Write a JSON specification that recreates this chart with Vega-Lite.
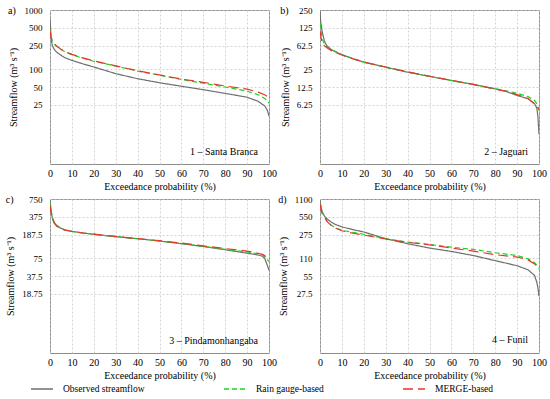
{
  "$schema": "https://vega.github.io/schema/vega-lite/v6.json",
  "padding": {"left": 5, "top": 5, "right": 2, "bottom": 2},
  "background": "white",
  "config": {
    "font": "Liberation Serif, Times New Roman, serif",
    "view": {"stroke": "#8c8c8c", "strokeWidth": 1},
    "axis": {"labelFont": "Liberation Serif, Times New Roman, serif", "titleFont": "Liberation Serif, Times New Roman, serif", "labelFontSize": 10, "titleFontSize": 10, "titleFontWeight": "normal", "labelColor": "#000", "titleColor": "#000", "ticks": false, "domain": false, "gridColor": "#c8c8c8", "gridDash": [2, 2], "gridWidth": 0.8, "labelOverlap": false, "labelFlush": false},
    "axisX": {"labelPadding": 4, "titlePadding": 3, "tickCount": 11},
    "axisY": {"labelPadding": 8, "titlePadding": 6, "labelFontSize": 9},
    "title": {"font": "Liberation Serif, Times New Roman, serif", "fontSize": 10, "fontWeight": "normal", "color": "#000"},
    "text": {"font": "Liberation Serif, Times New Roman, serif", "fontSize": 10},
    "legend": {"orient": "none", "legendX": -20, "legendY": 367, "direction": "horizontal", "symbolType": "stroke", "symbolSize": 484, "symbolStrokeWidth": 1.5, "columnPadding": 76, "labelOffset": 9, "padding": 0, "gridAlign": "none", "labelFont": "Liberation Serif, Times New Roman, serif", "labelFontSize": 9.5, "labelColor": "#000"}
  },
  "datasets": {
    "a": [
      {"series":"Observed streamflow","p":0,"q":700},{"series":"Observed streamflow","p":0.5,"q":350},{"series":"Observed streamflow","p":1,"q":254},{"series":"Observed streamflow","p":2,"q":215},{"series":"Observed streamflow","p":3,"q":195},{"series":"Observed streamflow","p":5,"q":172},{"series":"Observed streamflow","p":7,"q":155},{"series":"Observed streamflow","p":10,"q":141},{"series":"Observed streamflow","p":15,"q":123},{"series":"Observed streamflow","p":20,"q":109},{"series":"Observed streamflow","p":30,"q":84},{"series":"Observed streamflow","p":40,"q":69},{"series":"Observed streamflow","p":50,"q":59},{"series":"Observed streamflow","p":60,"q":51.5},{"series":"Observed streamflow","p":70,"q":45},{"series":"Observed streamflow","p":80,"q":39},{"series":"Observed streamflow","p":90,"q":33.6},{"series":"Observed streamflow","p":95,"q":28.7},{"series":"Observed streamflow","p":98,"q":24},{"series":"Observed streamflow","p":99,"q":21},{"series":"Observed streamflow","p":99.5,"q":19},{"series":"Observed streamflow","p":100,"q":16},
      {"series":"Rain gauge-based","p":0,"q":480},{"series":"Rain gauge-based","p":0.5,"q":350},{"series":"Rain gauge-based","p":1,"q":300},{"series":"Rain gauge-based","p":2,"q":265},{"series":"Rain gauge-based","p":3,"q":245},{"series":"Rain gauge-based","p":5,"q":215},{"series":"Rain gauge-based","p":7,"q":195},{"series":"Rain gauge-based","p":10,"q":176},{"series":"Rain gauge-based","p":15,"q":153},{"series":"Rain gauge-based","p":20,"q":136},{"series":"Rain gauge-based","p":30,"q":113},{"series":"Rain gauge-based","p":40,"q":93},{"series":"Rain gauge-based","p":50,"q":79},{"series":"Rain gauge-based","p":60,"q":67},{"series":"Rain gauge-based","p":70,"q":58},{"series":"Rain gauge-based","p":80,"q":50},{"series":"Rain gauge-based","p":90,"q":42.5},{"series":"Rain gauge-based","p":95,"q":37},{"series":"Rain gauge-based","p":98,"q":32},{"series":"Rain gauge-based","p":99,"q":30},{"series":"Rain gauge-based","p":100,"q":26.5},
      {"series":"MERGE-based","p":0,"q":450},{"series":"MERGE-based","p":0.5,"q":340},{"series":"MERGE-based","p":1,"q":300},{"series":"MERGE-based","p":2,"q":268},{"series":"MERGE-based","p":3,"q":247},{"series":"MERGE-based","p":5,"q":218},{"series":"MERGE-based","p":7,"q":197},{"series":"MERGE-based","p":10,"q":178},{"series":"MERGE-based","p":15,"q":155},{"series":"MERGE-based","p":20,"q":138},{"series":"MERGE-based","p":30,"q":114},{"series":"MERGE-based","p":40,"q":94},{"series":"MERGE-based","p":50,"q":80},{"series":"MERGE-based","p":60,"q":68},{"series":"MERGE-based","p":70,"q":60},{"series":"MERGE-based","p":80,"q":52},{"series":"MERGE-based","p":90,"q":46},{"series":"MERGE-based","p":95,"q":41},{"series":"MERGE-based","p":98,"q":37},{"series":"MERGE-based","p":99,"q":35},{"series":"MERGE-based","p":100,"q":33}
    ],
    "b": [
      {"series":"Observed streamflow","p":0,"q":250},{"series":"Observed streamflow","p":0.3,"q":160},{"series":"Observed streamflow","p":1,"q":107},{"series":"Observed streamflow","p":2,"q":75},{"series":"Observed streamflow","p":3,"q":63},{"series":"Observed streamflow","p":5,"q":54},{"series":"Observed streamflow","p":7,"q":49},{"series":"Observed streamflow","p":10,"q":44},{"series":"Observed streamflow","p":15,"q":37.5},{"series":"Observed streamflow","p":20,"q":33},{"series":"Observed streamflow","p":30,"q":27},{"series":"Observed streamflow","p":40,"q":22.3},{"series":"Observed streamflow","p":50,"q":18.9},{"series":"Observed streamflow","p":60,"q":16.1},{"series":"Observed streamflow","p":70,"q":13.8},{"series":"Observed streamflow","p":80,"q":11.6},{"series":"Observed streamflow","p":85,"q":10.5},{"series":"Observed streamflow","p":90,"q":9.0},{"series":"Observed streamflow","p":95,"q":7.9},{"series":"Observed streamflow","p":98,"q":6.5},{"series":"Observed streamflow","p":99,"q":5.5},{"series":"Observed streamflow","p":99.5,"q":4},{"series":"Observed streamflow","p":100,"q":2.0},
      {"series":"Rain gauge-based","p":0,"q":150},{"series":"Rain gauge-based","p":0.5,"q":110},{"series":"Rain gauge-based","p":1,"q":80},{"series":"Rain gauge-based","p":2,"q":68},{"series":"Rain gauge-based","p":3,"q":60},{"series":"Rain gauge-based","p":5,"q":54},{"series":"Rain gauge-based","p":7,"q":50},{"series":"Rain gauge-based","p":10,"q":44},{"series":"Rain gauge-based","p":15,"q":38},{"series":"Rain gauge-based","p":20,"q":33},{"series":"Rain gauge-based","p":30,"q":27},{"series":"Rain gauge-based","p":40,"q":22.3},{"series":"Rain gauge-based","p":50,"q":18.9},{"series":"Rain gauge-based","p":60,"q":16.1},{"series":"Rain gauge-based","p":70,"q":13.8},{"series":"Rain gauge-based","p":80,"q":11.7},{"series":"Rain gauge-based","p":85,"q":10.8},{"series":"Rain gauge-based","p":90,"q":9.8},{"series":"Rain gauge-based","p":95,"q":8.6},{"series":"Rain gauge-based","p":98,"q":7.4},{"series":"Rain gauge-based","p":99,"q":6.5},{"series":"Rain gauge-based","p":100,"q":5.0},
      {"series":"MERGE-based","p":0,"q":110},{"series":"MERGE-based","p":0.5,"q":85},{"series":"MERGE-based","p":1,"q":68},{"series":"MERGE-based","p":2,"q":62},{"series":"MERGE-based","p":3,"q":58},{"series":"MERGE-based","p":5,"q":52},{"series":"MERGE-based","p":7,"q":48},{"series":"MERGE-based","p":10,"q":43.5},{"series":"MERGE-based","p":15,"q":37.5},{"series":"MERGE-based","p":20,"q":33},{"series":"MERGE-based","p":30,"q":27.2},{"series":"MERGE-based","p":40,"q":22.5},{"series":"MERGE-based","p":50,"q":19},{"series":"MERGE-based","p":60,"q":16.2},{"series":"MERGE-based","p":70,"q":13.8},{"series":"MERGE-based","p":80,"q":11.6},{"series":"MERGE-based","p":85,"q":10.6},{"series":"MERGE-based","p":90,"q":9.3},{"series":"MERGE-based","p":95,"q":8.0},{"series":"MERGE-based","p":98,"q":6.5},{"series":"MERGE-based","p":99,"q":6.0},{"series":"MERGE-based","p":100,"q":5.3}
    ],
    "c": [
      {"series":"Observed streamflow","p":0,"q":720},{"series":"Observed streamflow","p":0.5,"q":480},{"series":"Observed streamflow","p":1,"q":370},{"series":"Observed streamflow","p":2,"q":300},{"series":"Observed streamflow","p":3,"q":270},{"series":"Observed streamflow","p":5,"q":240},{"series":"Observed streamflow","p":7,"q":225},{"series":"Observed streamflow","p":10,"q":214},{"series":"Observed streamflow","p":15,"q":200},{"series":"Observed streamflow","p":20,"q":190},{"series":"Observed streamflow","p":30,"q":173},{"series":"Observed streamflow","p":40,"q":160},{"series":"Observed streamflow","p":50,"q":146},{"series":"Observed streamflow","p":60,"q":132},{"series":"Observed streamflow","p":70,"q":118},{"series":"Observed streamflow","p":80,"q":104},{"series":"Observed streamflow","p":90,"q":91},{"series":"Observed streamflow","p":95,"q":85},{"series":"Observed streamflow","p":97,"q":81},{"series":"Observed streamflow","p":98,"q":75},{"series":"Observed streamflow","p":99,"q":60},{"series":"Observed streamflow","p":100,"q":47},
      {"series":"Rain gauge-based","p":0,"q":650},{"series":"Rain gauge-based","p":0.5,"q":450},{"series":"Rain gauge-based","p":1,"q":360},{"series":"Rain gauge-based","p":2,"q":295},{"series":"Rain gauge-based","p":3,"q":265},{"series":"Rain gauge-based","p":5,"q":238},{"series":"Rain gauge-based","p":7,"q":223},{"series":"Rain gauge-based","p":10,"q":212},{"series":"Rain gauge-based","p":15,"q":199},{"series":"Rain gauge-based","p":20,"q":190},{"series":"Rain gauge-based","p":30,"q":173},{"series":"Rain gauge-based","p":40,"q":160},{"series":"Rain gauge-based","p":50,"q":146},{"series":"Rain gauge-based","p":60,"q":133},{"series":"Rain gauge-based","p":70,"q":119},{"series":"Rain gauge-based","p":80,"q":106},{"series":"Rain gauge-based","p":90,"q":96},{"series":"Rain gauge-based","p":95,"q":89},{"series":"Rain gauge-based","p":97,"q":86},{"series":"Rain gauge-based","p":98,"q":80},{"series":"Rain gauge-based","p":99,"q":72},{"series":"Rain gauge-based","p":100,"q":66},
      {"series":"MERGE-based","p":0,"q":600},{"series":"MERGE-based","p":0.5,"q":440},{"series":"MERGE-based","p":1,"q":350},{"series":"MERGE-based","p":2,"q":290},{"series":"MERGE-based","p":3,"q":262},{"series":"MERGE-based","p":5,"q":236},{"series":"MERGE-based","p":7,"q":222},{"series":"MERGE-based","p":10,"q":212},{"series":"MERGE-based","p":15,"q":200},{"series":"MERGE-based","p":20,"q":191},{"series":"MERGE-based","p":30,"q":175},{"series":"MERGE-based","p":40,"q":161},{"series":"MERGE-based","p":50,"q":148},{"series":"MERGE-based","p":60,"q":135},{"series":"MERGE-based","p":70,"q":121},{"series":"MERGE-based","p":80,"q":109},{"series":"MERGE-based","p":90,"q":99},{"series":"MERGE-based","p":95,"q":91},{"series":"MERGE-based","p":97,"q":87},{"series":"MERGE-based","p":98,"q":83},{"series":"MERGE-based","p":99,"q":77},{"series":"MERGE-based","p":100,"q":71}
    ],
    "d": [
      {"series":"Observed streamflow","p":0,"q":1050},{"series":"Observed streamflow","p":0.5,"q":800},{"series":"Observed streamflow","p":1,"q":668},{"series":"Observed streamflow","p":2,"q":570},{"series":"Observed streamflow","p":3,"q":515},{"series":"Observed streamflow","p":5,"q":452},{"series":"Observed streamflow","p":7,"q":410},{"series":"Observed streamflow","p":10,"q":371},{"series":"Observed streamflow","p":15,"q":335},{"series":"Observed streamflow","p":20,"q":305},{"series":"Observed streamflow","p":30,"q":235},{"series":"Observed streamflow","p":40,"q":193},{"series":"Observed streamflow","p":50,"q":163},{"series":"Observed streamflow","p":60,"q":143},{"series":"Observed streamflow","p":70,"q":122},{"series":"Observed streamflow","p":80,"q":100},{"series":"Observed streamflow","p":90,"q":82},{"series":"Observed streamflow","p":95,"q":70},{"series":"Observed streamflow","p":98,"q":56},{"series":"Observed streamflow","p":99,"q":43},{"series":"Observed streamflow","p":99.5,"q":35},{"series":"Observed streamflow","p":100,"q":25},
      {"series":"Rain gauge-based","p":0,"q":950},{"series":"Rain gauge-based","p":0.5,"q":750},{"series":"Rain gauge-based","p":1,"q":650},{"series":"Rain gauge-based","p":2,"q":560},{"series":"Rain gauge-based","p":3,"q":480},{"series":"Rain gauge-based","p":5,"q":400},{"series":"Rain gauge-based","p":7,"q":360},{"series":"Rain gauge-based","p":10,"q":326},{"series":"Rain gauge-based","p":15,"q":300},{"series":"Rain gauge-based","p":20,"q":279},{"series":"Rain gauge-based","p":30,"q":235},{"series":"Rain gauge-based","p":40,"q":206},{"series":"Rain gauge-based","p":50,"q":188},{"series":"Rain gauge-based","p":60,"q":169},{"series":"Rain gauge-based","p":70,"q":155},{"series":"Rain gauge-based","p":80,"q":136},{"series":"Rain gauge-based","p":90,"q":122},{"series":"Rain gauge-based","p":95,"q":107},{"series":"Rain gauge-based","p":98,"q":92},{"series":"Rain gauge-based","p":99,"q":84},{"series":"Rain gauge-based","p":100,"q":74},
      {"series":"MERGE-based","p":0,"q":900},{"series":"MERGE-based","p":0.5,"q":720},{"series":"MERGE-based","p":1,"q":620},{"series":"MERGE-based","p":2,"q":560},{"series":"MERGE-based","p":3,"q":470},{"series":"MERGE-based","p":5,"q":395},{"series":"MERGE-based","p":7,"q":355},{"series":"MERGE-based","p":10,"q":320},{"series":"MERGE-based","p":15,"q":290},{"series":"MERGE-based","p":20,"q":270},{"series":"MERGE-based","p":30,"q":232},{"series":"MERGE-based","p":40,"q":204},{"series":"MERGE-based","p":50,"q":185},{"series":"MERGE-based","p":60,"q":163},{"series":"MERGE-based","p":70,"q":145},{"series":"MERGE-based","p":80,"q":126},{"series":"MERGE-based","p":90,"q":115},{"series":"MERGE-based","p":95,"q":103},{"series":"MERGE-based","p":98,"q":88},{"series":"MERGE-based","p":99,"q":80},{"series":"MERGE-based","p":100,"q":70}
    ]
  },
  "columns": 2,
  "spacing": {"row": 2, "column": 0},
  "concat": [
    {
      "width": 219, "height": 154,
      "title": {"text": "a)", "anchor": "start", "frame": "bounds", "offset": -10},
      "layer": [
        {
          "data": {"name": "a"},
          "mark": {"type": "line", "strokeWidth": 1.2, "clip": true},
          "encoding": {
            "x": {"field": "p", "type": "quantitative", "scale": {"domain": [0, 100], "nice": false}, "axis": {"values": [0,10,20,30,40,50,60,70,80,90,100], "title": "Exceedance probability (%)"}},
            "y": {"field": "q", "type": "quantitative", "scale": {"type": "log", "domain": [2.5, 1000], "nice": false}, "axis": {"values": [25,50,100,250,500,1000], "format": "~g", "title": "Streamflow (m³ s⁻¹)"}},
            "color": {"field": "series", "type": "nominal", "title": null, "scale": {"domain": ["Observed streamflow", "Rain gauge-based", "MERGE-based"], "range": ["#6e6e6e", "#1fd21f", "#e8352e"]}},
            "strokeDash": {"field": "series", "type": "nominal", "title": null, "scale": {"domain": ["Observed streamflow", "Rain gauge-based", "MERGE-based"], "range": [[1, 0], [5, 3], [10, 5]]}}
          }
        },
        {
          "data": {"values": [{}]},
          "mark": {"type": "text", "align": "right", "baseline": "alphabetic", "text": "1 – Santa Branca"},
          "encoding": {"x": {"datum": 95}, "y": {"datum": 3.6}}
        }
      ]
    },
    {
      "width": 219, "height": 154,
      "title": {"text": "b)", "anchor": "start", "frame": "bounds", "offset": -10},
      "layer": [
        {
          "data": {"name": "b"},
          "mark": {"type": "line", "strokeWidth": 1.2, "clip": true},
          "encoding": {
            "x": {"field": "p", "type": "quantitative", "scale": {"domain": [0, 100], "nice": false}, "axis": {"values": [0,10,20,30,40,50,60,70,80,90,100], "title": "Exceedance probability (%)"}},
            "y": {"field": "q", "type": "quantitative", "scale": {"type": "log", "domain": [0.625, 250], "nice": false}, "axis": {"values": [6.25,12.5,25,62.5,125,250], "format": "~g", "title": "Streamflow (m³ s⁻¹)"}},
            "color": {"field": "series", "type": "nominal", "title": null, "scale": {"domain": ["Observed streamflow", "Rain gauge-based", "MERGE-based"], "range": ["#6e6e6e", "#1fd21f", "#e8352e"]}},
            "strokeDash": {"field": "series", "type": "nominal", "title": null, "scale": {"domain": ["Observed streamflow", "Rain gauge-based", "MERGE-based"], "range": [[1, 0], [5, 3], [10, 5]]}}
          }
        },
        {
          "data": {"values": [{}]},
          "mark": {"type": "text", "align": "right", "baseline": "alphabetic", "text": "2 – Jaguari"},
          "encoding": {"x": {"datum": 95}, "y": {"datum": 0.9}}
        }
      ]
    },
    {
      "width": 219, "height": 154,
      "title": {"text": "c)", "anchor": "start", "frame": "bounds", "offset": -10},
      "layer": [
        {
          "data": {"name": "c"},
          "mark": {"type": "line", "strokeWidth": 1.2, "clip": true},
          "encoding": {
            "x": {"field": "p", "type": "quantitative", "scale": {"domain": [0, 100], "nice": false}, "axis": {"values": [0,10,20,30,40,50,60,70,80,90,100], "title": "Exceedance probability (%)"}},
            "y": {"field": "q", "type": "quantitative", "scale": {"type": "log", "domain": [1.875, 750], "nice": false}, "axis": {"values": [18.75,37.5,75,187.5,375,750], "format": "~g", "title": "Streamflow (m³ s⁻¹)"}},
            "color": {"field": "series", "type": "nominal", "title": null, "scale": {"domain": ["Observed streamflow", "Rain gauge-based", "MERGE-based"], "range": ["#6e6e6e", "#1fd21f", "#e8352e"]}},
            "strokeDash": {"field": "series", "type": "nominal", "title": null, "scale": {"domain": ["Observed streamflow", "Rain gauge-based", "MERGE-based"], "range": [[1, 0], [5, 3], [10, 5]]}}
          }
        },
        {
          "data": {"values": [{}]},
          "mark": {"type": "text", "align": "right", "baseline": "alphabetic", "text": "3 – Pindamonhangaba"},
          "encoding": {"x": {"datum": 95}, "y": {"datum": 2.7}}
        }
      ]
    },
    {
      "width": 219, "height": 154,
      "title": {"text": "d)", "anchor": "start", "frame": "bounds", "offset": -10},
      "layer": [
        {
          "data": {"name": "d"},
          "mark": {"type": "line", "strokeWidth": 1.2, "clip": true},
          "encoding": {
            "x": {"field": "p", "type": "quantitative", "scale": {"domain": [0, 100], "nice": false}, "axis": {"values": [0,10,20,30,40,50,60,70,80,90,100], "title": "Exceedance probability (%)"}},
            "y": {"field": "q", "type": "quantitative", "scale": {"type": "log", "domain": [2.75, 1100], "nice": false}, "axis": {"values": [27.5,55,110,275,550,1100], "format": "~g", "title": "Streamflow (m³ s⁻¹)"}},
            "color": {"field": "series", "type": "nominal", "title": null, "scale": {"domain": ["Observed streamflow", "Rain gauge-based", "MERGE-based"], "range": ["#6e6e6e", "#1fd21f", "#e8352e"]}},
            "strokeDash": {"field": "series", "type": "nominal", "title": null, "scale": {"domain": ["Observed streamflow", "Rain gauge-based", "MERGE-based"], "range": [[1, 0], [5, 3], [10, 5]]}}
          }
        },
        {
          "data": {"values": [{}]},
          "mark": {"type": "text", "align": "right", "baseline": "alphabetic", "text": "4 – Funil"},
          "encoding": {"x": {"datum": 95}, "y": {"datum": 4.1}}
        }
      ]
    }
  ]
}
